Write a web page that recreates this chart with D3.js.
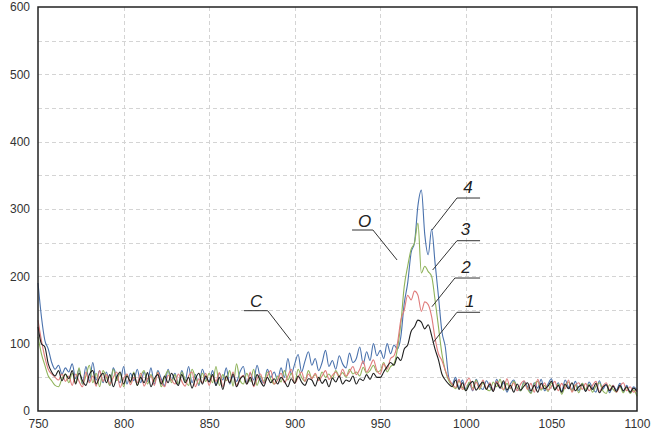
<!DOCTYPE html>
<html>
<head>
<meta charset="utf-8">
<script src="https://cdn.jsdelivr.net/npm/d3@7/dist/d3.min.js"></script>
<style>
  html, body { margin: 0; padding: 0; background: #fff; }
  svg { display: block; }
  .tick text { font-family: "Liberation Sans", Arial, sans-serif; font-size: 12px; fill: #333; }
  .note { font-family: "Liberation Sans", Arial, sans-serif; font-style: italic; font-size: 17px; fill: #222; }
</style>
</head>
<body>
<svg id="chart" width="668" height="432"></svg>
<script>
// Raman shift grid (cm-1), sampled every 2 units from 750 to 1100
const shiftStart = 750, shiftEnd = 1100, shiftStep = 2;
const shifts = d3.range(shiftStart, shiftEnd + 1, shiftStep);

const xTicks = [750, 800, 850, 900, 950, 1000, 1050, 1100];
const yTicks = [0, 100, 200, 300, 400, 500, 600];

// Intensity of sample 4 (blue)
const series4 = [
  190, 140, 105, 92, 72, 62, 68, 55, 64, 58,
  70, 48, 62, 40, 66, 44, 72, 46, 60, 42,
  58, 38, 64, 50, 42, 66, 40, 56, 45, 62,
  42, 58, 44, 64, 40, 60, 48, 38, 62, 46,
  56, 40, 60, 45, 66, 42, 54, 38, 62, 48,
  44, 60, 38, 56, 46, 64, 40, 52, 44, 58,
  66, 42, 56, 46, 68, 48, 42, 62, 50, 58,
  46, 64, 50, 78, 55, 70, 84, 58, 74, 88,
  68, 78, 60, 72, 90, 66, 75, 62, 82, 70,
  64, 86, 72, 78, 95, 70, 88, 75, 100, 82,
  90, 78, 100, 85, 98, 92, 110, 160, 190, 235,
  250, 305, 328, 262, 232, 270, 220, 170, 118, 95,
  50, 40, 50, 34, 46, 32, 42, 30, 47, 36,
  32, 45, 36, 30, 47, 34, 42, 28, 40, 46,
  34, 30, 44, 36, 27, 42, 34, 47, 30, 40,
  48, 32, 42, 29, 46, 35, 32, 44, 30, 41,
  30, 43, 34, 28, 45, 32, 40, 27, 38, 31,
  41, 29, 38, 27, 36, 31
];

// Intensity of sample 3 (green)
const series3 = [
  110, 85, 68, 52, 45, 38, 36, 48, 55, 42,
  56, 42, 64, 40, 52, 68, 42, 56, 36, 60,
  50, 38, 62, 45, 56, 36, 54, 42, 58, 38,
  52, 60, 40, 54, 44, 58, 36, 50, 60, 42,
  54, 40, 58, 46, 38, 62, 50, 40, 56, 44,
  56, 42, 66, 38, 54, 45, 60, 37, 70, 46,
  40, 56, 44, 62, 38, 52, 44, 58, 47, 40,
  52, 43, 60, 46, 56, 42, 62, 50, 44, 60,
  49, 54, 46, 58, 50, 55, 48, 60, 52, 57,
  50, 62, 55, 58, 52, 65, 56, 60, 68, 58,
  60, 72, 58, 66, 70, 92, 130, 185, 215, 240,
  250, 279, 205, 215, 207, 200, 165, 125, 85, 60,
  45, 38, 33, 45, 35, 31, 43, 34, 46, 32,
  42, 33, 30, 43, 36, 47, 31, 41, 33, 44,
  35, 30, 42, 33, 26, 40, 44, 31, 38, 29,
  42, 32, 40, 25, 37, 43, 30, 39, 27, 41,
  32, 40, 28, 37, 42, 30, 26, 39, 32, 28,
  37, 27, 35, 26, 31, 22
];

// Intensity of sample 2 (red)
const series2 = [
  135, 105, 80, 62, 55, 50, 46, 55, 44, 52,
  38, 55, 44, 36, 58, 42, 52, 37, 60, 44,
  54, 40, 50, 58, 35, 48, 55, 39, 50, 42,
  56, 37, 48, 52, 38, 57, 44, 36, 53, 46,
  40, 55, 44, 37, 52, 58, 36, 48, 42, 56,
  38, 52, 44, 57, 36, 50, 42, 58, 38, 48,
  53, 40, 58, 36, 48, 55, 41, 52, 60, 40,
  46, 56, 42, 52, 62, 41, 50, 58, 44, 55,
  48, 56, 45, 52, 60, 47, 53, 58, 50, 62,
  52, 58, 66, 54, 62, 74, 58, 66, 76, 60,
  55, 70, 62, 78, 82, 100, 135, 150, 172, 165,
  178, 172, 148, 162, 158, 140, 108, 85, 75, 60,
  48, 40, 35, 47, 32, 42, 49, 31, 43, 34,
  46, 33, 42, 30, 44, 36, 32, 48, 34, 42,
  30, 40, 45, 32, 41, 28, 47, 33, 42, 31,
  36, 44, 30, 41, 33, 46, 28, 38, 42, 32,
  41, 30, 38, 44, 29, 37, 42, 31, 38, 28,
  37, 42, 30, 36, 28, 33
];

// Intensity of sample 1 (black)
const series1 = [
  125, 100, 95, 70, 58, 52, 60, 45, 55, 48,
  60, 40, 56, 45, 38, 54, 60, 40, 50, 56,
  42, 54, 36, 50, 58, 40, 52, 44, 56, 38,
  50, 42, 57, 36, 48, 54, 40, 52, 42, 56,
  46, 38, 54, 42, 50, 34, 48, 56, 40, 52,
  43, 54, 38, 50, 32, 52, 42, 55, 36, 47,
  52, 40, 50, 38, 54, 44, 37, 50, 42, 48,
  40, 50, 44, 36, 48, 41, 52, 43, 38, 48,
  46, 37, 50, 41, 47, 36, 49, 43, 52, 40,
  46, 44, 52, 40, 48, 45, 54, 47, 56, 50,
  50, 58, 66, 72, 68, 80, 75, 92, 98, 118,
  125, 135, 132, 122, 128, 112, 92, 76, 55, 46,
  40, 36, 46, 32, 42, 30, 39, 44, 31, 38,
  43, 32, 40, 29, 42, 34, 45, 31, 38, 28,
  40, 31, 37, 42, 30, 38, 28, 41, 33, 37,
  44, 31, 38, 28, 40, 33, 42, 30, 36, 39,
  29, 38, 32, 41, 27, 35, 39, 30, 37, 29,
  38, 30, 36, 28, 34, 29
];

const seriesNames = ["4", "3", "2", "1"];
const seriesValues = [series4, series3, series2, series1];
const seriesColors = ["#4a72ad", "#8fb35a", "#df7b7b", "#1e1e1e"];

// Callout labels: text anchor, underline span and leader end, in data units
const noteLabels = ["C", "O", "4", "3", "2", "1"];
const noteTextX = [877.4, 940.8, 1001.3, 999.8, 1000.1, 1002.3];
const noteTextY = [154.5, 273, 323.8, 261.4, 205, 154.9];
const noteLineX0 = [870.4, 933.5, 994.8, 994.8, 993.6, 994.8];
const noteLineX1 = [884.2, 945.7, 1008.3, 1008.3, 1008.3, 1008.3];
const noteLineY = [149, 268.8, 316.3, 252.9, 197.5, 146.6];
const noteFromRight = [true, true, false, false, false, false];
const noteEndX = [897.8, 959.8, 980.2, 980.6, 980.2, 980.8];
const noteEndY = [104.4, 224.3, 268.8, 209.4, 154.9, 101.4];

const margin = { left: 38, top: 7, right: 31, bottom: 21 };
const width = 668, height = 432;
const svg = d3.select("#chart");

const x = d3.scaleLinear().domain([shiftStart, shiftEnd]).range([margin.left, width - margin.right]);
const y = d3.scaleLinear().domain([0, 600]).range([height - margin.bottom, margin.top]);

// Dashed grid every 50 units on both axes
const grid = svg.append("g").attr("stroke", "#d4d4d4").attr("stroke-dasharray", "4,3").attr("stroke-width", 1);
d3.range(800, 1100, 50).forEach(v => {
  grid.append("line").attr("x1", Math.round(x(v)) + 0.5).attr("x2", Math.round(x(v)) + 0.5)
    .attr("y1", y(600)).attr("y2", y(0));
});
d3.range(50, 600, 50).forEach(v => {
  grid.append("line").attr("y1", Math.round(y(v)) + 0.5).attr("y2", Math.round(y(v)) + 0.5)
    .attr("x1", x(shiftStart)).attr("x2", x(shiftEnd));
});

// Spectra
const line = d3.line().x((d, i) => x(shifts[i])).y(d => y(d)).curve(d3.curveMonotoneX);
const plot = svg.append("g");
[0, 1, 2, 3].forEach(k => {
  plot.append("path").datum(seriesValues[k])
    .attr("fill", "none").attr("stroke", seriesColors[k]).attr("stroke-width", 1.1)
    .attr("d", line);
});

// Frame
svg.append("rect").attr("x", x(shiftStart)).attr("y", y(600))
  .attr("width", x(shiftEnd) - x(shiftStart)).attr("height", y(0) - y(600))
  .attr("fill", "none").attr("stroke", "#222").attr("stroke-width", 1.5);

// Axes (labels only)
const xAxis = svg.append("g").attr("transform", `translate(0,${y(0)})`)
  .call(d3.axisBottom(x).tickValues(xTicks).tickSize(0).tickPadding(8).tickFormat(d3.format("d")));
xAxis.select(".domain").remove();
const yAxis = svg.append("g").attr("transform", `translate(${x(shiftStart)},0)`)
  .call(d3.axisLeft(y).tickValues(yTicks).tickSize(0).tickPadding(8).tickFormat(d3.format("d")));
yAxis.select(".domain").remove();

// Callouts
const notes = svg.append("g");
noteLabels.forEach((t, i) => {
  const sx = noteFromRight[i] ? noteLineX1[i] : noteLineX0[i];
  notes.append("line").attr("x1", x(noteLineX0[i])).attr("x2", x(noteLineX1[i]))
    .attr("y1", y(noteLineY[i])).attr("y2", y(noteLineY[i]))
    .attr("stroke", "#333").attr("stroke-width", 1);
  notes.append("line").attr("x1", x(sx)).attr("y1", y(noteLineY[i]))
    .attr("x2", x(noteEndX[i])).attr("y2", y(noteEndY[i]))
    .attr("stroke", "#333").attr("stroke-width", 1);
  notes.append("text").attr("class", "note").attr("text-anchor", "middle")
    .attr("x", x(noteTextX[i])).attr("y", y(noteTextY[i])).text(t);
});
</script>
</body>
</html>
